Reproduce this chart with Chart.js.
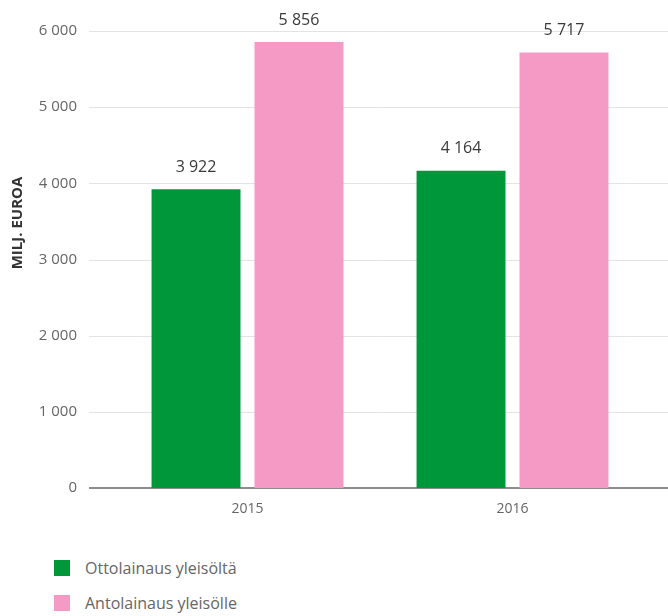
<!DOCTYPE html>
<html>
<head>
<meta charset="utf-8">
<script src="https://cdn.jsdelivr.net/npm/chart.js@4"></script>
<style>
  body { margin: 0; background: #fff; font-family: "Open Sans", sans-serif; }
  #wrap { position: relative; width: 668px; height: 616px; }
  #box { position: absolute; left: 0; top: 0; width: 668px; height: 540px; }
  #legend { position: absolute; left: 54px; top: 559px; }
  .item { display: flex; align-items: center; height: 18px; margin-bottom: 17px; color: #666; font-size: 16px; }
  .sw { width: 16px; height: 16px; margin-right: 15px; }
</style>
</head>
<body>
<div id="wrap">
  <div id="box"><canvas id="chart"></canvas></div>
  <div id="legend"></div>
</div>
<script>
const years = ["2015", "2016"]
const seriesNames = ["Ottolainaus yleisöltä", "Antolainaus yleisölle"]
const ottolainaus = [3922, 4164]
const antolainaus = [5856, 5717]
const colors = ["#00963a", "#f49ac4"]
const yTitle = "MILJ. EUROA"

const fmt = v => String(v).replace(/\B(?=(\d{3})+(?!\d))/g, " ")

// grid lines run wider than the bar area, so they are drawn by hand
const gridPlugin = {
  id: 'grid',
  beforeDatasetsDraw(chart) {
    const ctx = chart.ctx, y = chart.scales.y
    ctx.save()
    y.ticks.forEach(t => {
      const py = Math.round(y.getPixelForValue(t.value))
      ctx.beginPath()
      if (t.value === 0) {
        ctx.strokeStyle = '#8c8c8c'
        ctx.lineWidth = 2
      } else {
        ctx.strokeStyle = '#e3e3e3'
        ctx.lineWidth = 1
      }
      ctx.moveTo(89, py + (t.value === 0 ? 0 : 0.5))
      ctx.lineTo(chart.width, py + (t.value === 0 ? 0 : 0.5))
      ctx.stroke()
    })
    ctx.restore()
  },
  afterDatasetsDraw(chart) {
    const ctx = chart.ctx
    ctx.save()
    ctx.font = '16px "Open Sans"'
    ctx.fillStyle = '#3a3a3a'
    ctx.textAlign = 'center'
    ctx.textBaseline = 'middle'
    chart.data.datasets.forEach((ds, i) => {
      chart.getDatasetMeta(i).data.forEach((bar, j) => {
        ctx.fillText(fmt(ds.data[j]), bar.x, bar.y - 22)
      })
    })
    ctx.font = 'bold 15px "Open Sans"'
    ctx.fillStyle = '#333'
    ctx.translate(18, 223)
    ctx.rotate(-Math.PI / 2)
    ctx.fillText(yTitle, 0, 0)
    ctx.restore()
  }
}

new Chart(document.getElementById('chart'), {
  type: 'bar',
  data: {
    labels: years,
    datasets: [
      { label: seriesNames[0], data: ottolainaus, backgroundColor: colors[0] },
      { label: seriesNames[1], data: antolainaus, backgroundColor: colors[1] }
    ]
  },
  options: {
    responsive: true,
    maintainAspectRatio: false,
    animation: false,
    layout: { padding: { top: 31, right: 23, left: 0, bottom: 0 } },
    datasets: { bar: { barPercentage: 0.864, categoryPercentage: 0.777 } },
    plugins: { legend: { display: false }, tooltip: { enabled: false } },
    scales: {
      x: {
        afterFit: s => { s.height = 52 },
        grid: { display: false, drawTicks: false },
        border: { display: false },
        ticks: { color: '#666', padding: 13, font: { family: 'Open Sans', size: 14 } }
      },
      y: {
        min: 0,
        max: 6000,
        afterFit: s => { s.width = 115 },
        grid: { display: false, drawTicks: true, tickLength: 33 },
        border: { display: false },
        ticks: {
          stepSize: 1000,
          padding: 5,
          color: '#666',
          font: { family: 'Open Sans', size: 15 },
          callback: v => fmt(v)
        }
      }
    }
  },
  plugins: [gridPlugin]
})

const legend = document.getElementById('legend')
seriesNames.forEach((name, i) => {
  const item = document.createElement('div')
  item.className = 'item'
  item.innerHTML = '<div class="sw" style="background:' + colors[i] + '"></div><span></span>'
  item.querySelector('span').textContent = name
  legend.appendChild(item)
})
</script>
</body>
</html>
